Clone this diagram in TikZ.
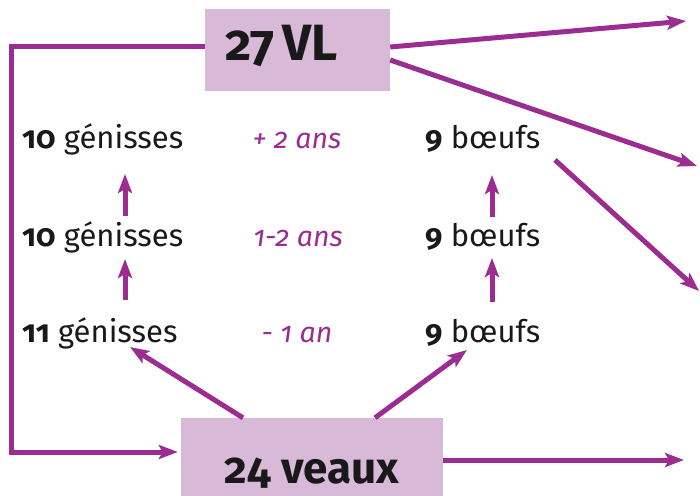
\documentclass[tikz,border=0pt]{standalone}
\usepackage{fontspec}
\setmainfont{Fira Sans}[Numbers=OldStyle]
\usetikzlibrary{arrows.meta}
\definecolor{prune}{RGB}{155,45,145}
\definecolor{mauve}{RGB}{216,185,216}
\tikzset{zbox/.style={
  fill=mauve,
  inner sep=0pt,
  text=black!90,
  font=\bfseries}}
\tikzset{zarrow/.style={
  draw=prune,
  line width=5pt,
  -{Stealth[length=19pt,width=14pt,inset=4pt]}}}
\tikzset{zcount/.style={
  anchor=base west,
  inner sep=0pt,
  text=black!90,
  font=\fontsize{31}{34}\selectfont}}
\tikzset{zage/.style={
  anchor=base,
  inner sep=0pt,
  text=prune,
  font=\fontsize{28.5}{32}\selectfont\itshape}}

\begin{document}
\begin{tikzpicture}[x=1pt,y=-1pt]
  \useasboundingbox (0,0) rectangle (700,495);

  %% Boxes
  \node[zbox,minimum width=185pt,minimum height=82pt,
    text height=30pt,text depth=10pt,text width=145pt,align=left]
    (vl) at (297.5,50) {\fontsize{51}{55}\selectfont 27\hspace{0.08em} VL};
  \node[zbox,minimum width=262pt,minimum height=78pt,
    text height=60pt,text depth=7pt]
    (veaux) at (312,457) {\fontsize{44}{48}\selectfont 24 veaux};

  %% Rows
  \node[zcount] (g1) at (22,148) {\textbf{10} génisses};
  \node[zcount] (g2) at (22,246) {\textbf{10} génisses};
  \node[zcount] (g3) at (22,342) {\textbf{11} génisses};
  \node[zage] (a1) at (297,148) {+ 2 ans};
  \node[zage] (a2) at (298,246) {1-2 ans};
  \node[zage] (a3) at (297,342) {- 1 an};
  \node[zcount] (b1) at (425,148) {\textbf{9} bœufs};
  \node[zcount] (b2) at (425,246) {\textbf{9} bœufs};
  \node[zcount] (b3) at (425,342) {\textbf{9} bœufs};

  %% Free ends
  \coordinate (out1) at (686,21);
  \coordinate (out2) at (697,166);
  \coordinate (out3) at (699,291);
  \coordinate (out4) at (684,460);
  \coordinate (turn) at (11,452);

  %% Ageing
  \draw[zarrow] ([shift={(103pt,42pt)}]g3.base west) -- ([shift={(103pt,-13pt)}]g2.base west);
  \draw[zarrow] ([shift={(103pt,30pt)}]g2.base west) -- ([shift={(103pt,-26pt)}]g1.base west);
  \draw[zarrow] ([shift={(67pt,40pt)}]b3.base west) -- ([shift={(67pt,-12pt)}]b2.base west);
  \draw[zarrow] ([shift={(67pt,29pt)}]b2.base west) -- ([shift={(67pt,-27pt)}]b1.base west);

  %% Calves
  \draw[zarrow] ([xshift=-69pt]veaux.north) -- ([shift={(108pt,-5pt)}]g3.base west);
  \draw[zarrow] ([xshift=63pt]veaux.north) -- ([shift={(42pt,-8pt)}]b3.base west);
  \draw[zarrow] ([yshift=-3pt]veaux.east) -- (out4);

  %% Cows
  \draw[zarrow,shorten >=3pt] ([yshift=3pt]vl.west) -| (turn) -- ([yshift=5pt]veaux.west);
  \draw[zarrow] ([yshift=3pt]vl.east) -- (out1);
  \draw[zarrow] ([yshift=-10pt]vl.east) -- (out2);
  \draw[zarrow] ([shift={(130pt,-12pt)}]b1.base west) -- (out3);
\end{tikzpicture}
\end{document}
